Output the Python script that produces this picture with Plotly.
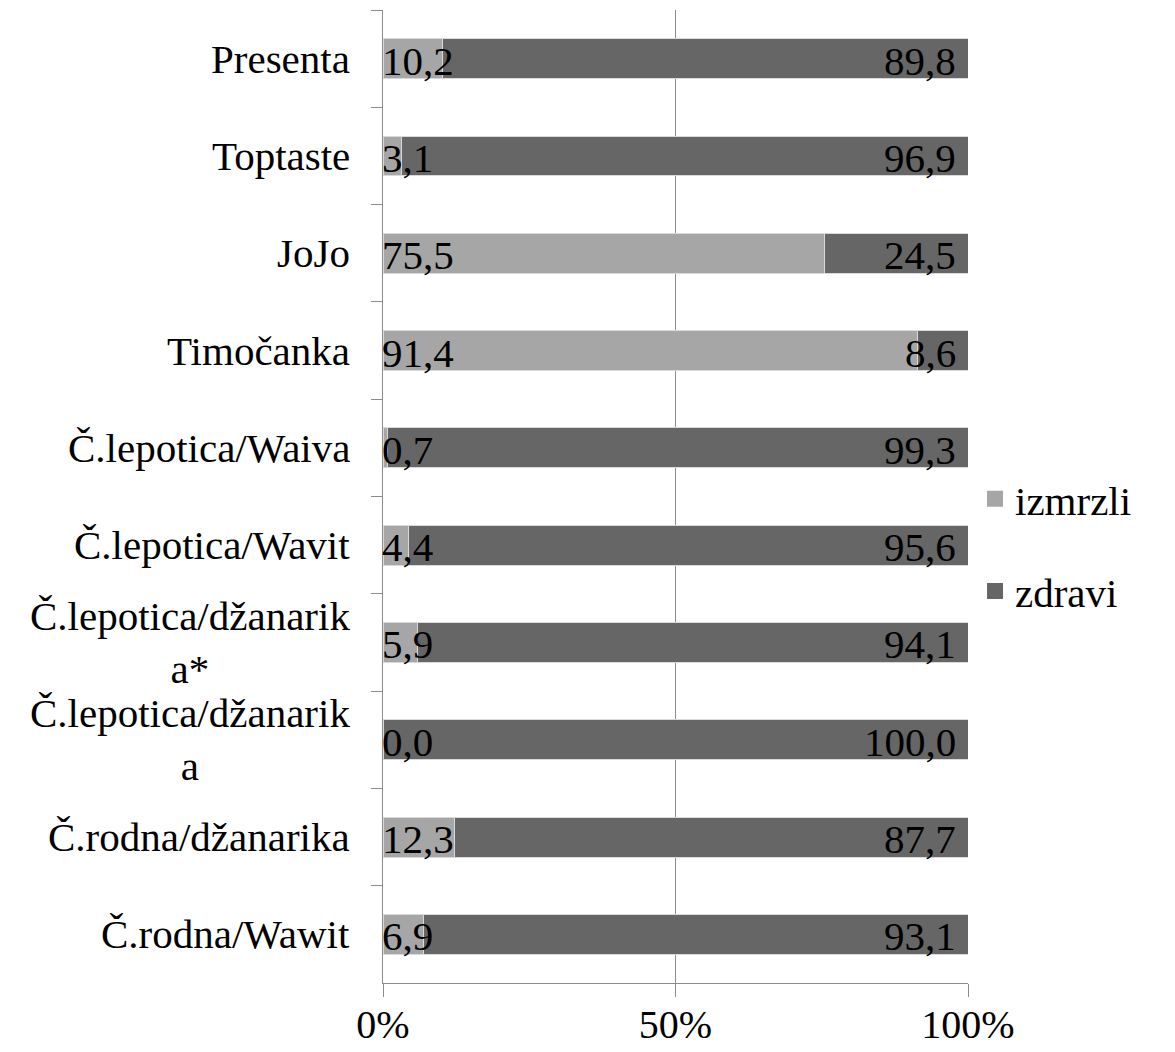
import plotly.graph_objects as go

categories = [
    'Presenta', 'Toptaste', 'JoJo', 'Timočanka', 'Č.lepotica/Waiva',
    'Č.lepotica/Wavit', 'Č.lepotica/džanarik<br>a*', 'Č.lepotica/džanarik<br>a',
    'Č.rodna/džanarika', 'Č.rodna/Wawit',
]
izmrzli = [10.2, 3.1, 75.5, 91.4, 0.7, 4.4, 5.9, 0.0, 12.3, 6.9]
zdravi = [89.8, 96.9, 24.5, 8.6, 99.3, 95.6, 94.1, 100.0, 87.7, 93.1]
x_ticks = [0, 50, 100]
x_ticktext = ['0%', '50%', '100%']

FONT = '"Liberation Serif", "Times New Roman", "DejaVu Serif", serif'
FS = 41
GRAY = '#8c8c8c'
COLORS = {'izmrzli': '#a6a6a6', 'zdravi': '#666666'}

fig = go.Figure()
for name, vals in [('izmrzli', izmrzli), ('zdravi', zdravi)]:
    fig.add_trace(go.Bar(
        y=categories, x=vals, name=name, orientation='h',
        marker=dict(color=COLORS[name], line=dict(color='#d9d9d9', width=1)),
        showlegend=False,
    ))
# legend entries with bigger square symbols
for name in ['izmrzli', 'zdravi']:
    fig.add_trace(go.Scatter(
        x=[None], y=[None], mode='markers', name=name,
        marker=dict(symbol='square', size=16, color=COLORS[name]),
        legendgroup=name,
    ))

# value labels: first series at bar base, second at bar end
for cat, a, b in zip(categories, izmrzli, zdravi):
    fig.add_annotation(x=0, y=cat, text=f'{a:.1f}'.replace('.', ','),
                       xanchor='left', yanchor='middle', showarrow=False, xshift=-3, yshift=-2,
                       font=dict(family=FONT, size=FS, color='black'))
    fig.add_annotation(x=a + b, y=cat, text=f'{b:.1f}'.replace('.', ','),
                       xanchor='right', yanchor='middle', showarrow=False, xshift=-10, yshift=-2,
                       font=dict(family=FONT, size=FS, color='black'))

# category labels, centred when wrapped
for cat in categories:
    fig.add_annotation(x=0, xref='paper', y=cat, text=cat, align='center',
                       xanchor='right', yanchor='middle', showarrow=False, xshift=-31,
                       font=dict(family=FONT, size=FS, color='black'))

fig.update_layout(
    barmode='stack',
    bargap=0.59,
    width=1167, height=1044,
    margin=dict(l=375, r=207, t=2, b=69),
    plot_bgcolor='white', paper_bgcolor='white',
    font=dict(family=FONT, size=FS, color='black'),
    legend=dict(x=1.012, y=0.45, xanchor='left', yanchor='middle',
                traceorder='grouped', tracegroupgap=36, itemsizing='trace',
                font=dict(family=FONT, size=FS, color='black')),
)
fig.update_xaxes(
    range=[0, 100], tickvals=x_ticks, ticktext=x_ticktext,
    showgrid=True, gridcolor=GRAY, gridwidth=1,
    showline=True, linecolor=GRAY, linewidth=1,
    ticks='outside', ticklen=13, tickcolor=GRAY, ticklabelstandoff=-7,
    tickfont=dict(size=40),
    zeroline=False, automargin=False,
)
fig.update_yaxes(
    autorange='reversed', showticklabels=False,
    showline=True, linecolor=GRAY, linewidth=1,
    ticks='outside', tickson='boundaries', ticklen=11, tickcolor=GRAY,
    showgrid=False, zeroline=False, automargin=False,
)

fig.write_html('out.html')
